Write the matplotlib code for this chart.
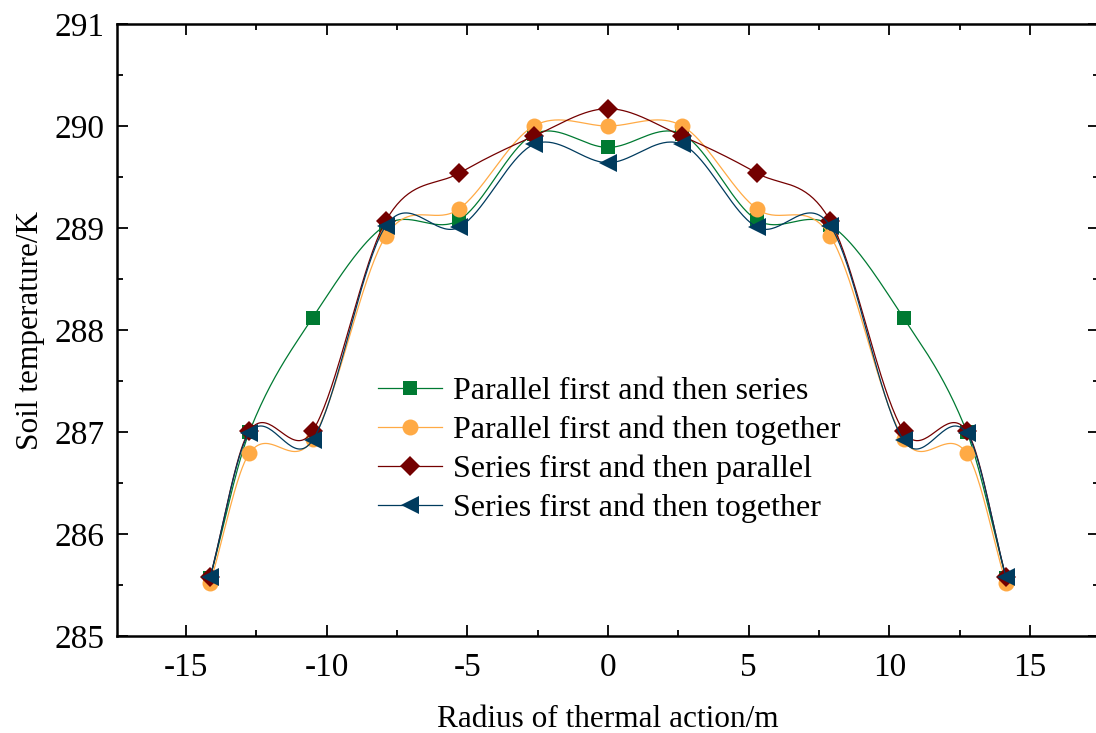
import numpy as np
import matplotlib
matplotlib.use("Agg")
import matplotlib.pyplot as plt
from matplotlib.ticker import MultipleLocator

plt.rcParams['font.family'] = ['Liberation Serif', 'DejaVu Serif']
plt.rcParams['axes.unicode_minus'] = False

# data
radius = [-14.14, -12.75, -10.5, -7.9, -5.28, -2.64, 0.0, 2.64, 5.28, 7.9, 10.5, 12.75, 14.14]
par_series = [285.57, 287.00, 288.12, 289.03, 289.08, 289.92, 289.79, 289.92, 289.08, 289.03, 288.12, 287.00, 285.57]
par_together = [285.52, 286.79, 286.93, 288.92, 289.19, 290.00, 290.00, 290.00, 289.19, 288.92, 286.93, 286.79, 285.52]
ser_parallel = [285.58, 287.01, 287.01, 289.07, 289.54, 289.90, 290.17, 289.90, 289.54, 289.07, 287.01, 287.01, 285.58]
ser_together = [285.58, 286.99, 286.92, 289.02, 289.01, 289.82, 289.64, 289.82, 289.01, 289.02, 286.92, 286.99, 285.58]

labels = ["Parallel first and then series", "Parallel first and then together",
          "Series first and then parallel", "Series first and then together"]
colors = ["#007A32", "#FFAA45", "#740000", "#003B5E"]
markers = ["s", "o", "D", "<"]
msizes = [10, 11.5, 10, 13]


def smooth(x, y, per_seg=40):
    # cubic Hermite through the points, Catmull-Rom style tangents
    x = np.asarray(x, float)
    y = np.asarray(y, float)
    m = np.empty_like(y)
    m[1:-1] = (y[2:] - y[:-2]) / (x[2:] - x[:-2])
    m[0] = (y[1] - y[0]) / (x[1] - x[0])
    m[-1] = (y[-1] - y[-2]) / (x[-1] - x[-2])
    xs, ys = [], []
    for i in range(len(x) - 1):
        h = x[i + 1] - x[i]
        t = np.linspace(0, 1, per_seg)
        h00 = 2 * t**3 - 3 * t**2 + 1
        h10 = t**3 - 2 * t**2 + t
        h01 = -2 * t**3 + 3 * t**2
        h11 = t**3 - t**2
        xs.append(x[i] + t * h)
        ys.append(h00 * y[i] + h10 * h * m[i] + h01 * y[i + 1] + h11 * h * m[i + 1])
    return np.concatenate(xs), np.concatenate(ys)


fig = plt.figure(figsize=(10.96, 7.33), dpi=100)
ax = fig.add_axes([0.1068, 0.1323, 0.896, 0.8349])

for yv, lab, c, mk, ms in zip([par_series, par_together, ser_parallel, ser_together],
                              labels, colors, markers, msizes):
    xs, ys = smooth(radius, yv)
    ax.plot(xs, ys, color=c, lw=0.9)
    ax.plot(radius, yv, ls="none", marker=mk, ms=ms, color=c, mec=c, mew=0)
    ax.plot([], [], color=c, lw=0.9, marker=mk, ms=ms, mew=0, label=lab)

ax.set_xlim(-17.45, 17.45)
ax.set_ylim(285, 291)
ax.xaxis.set_major_locator(MultipleLocator(5))
ax.xaxis.set_minor_locator(MultipleLocator(2.5))
ax.yaxis.set_major_locator(MultipleLocator(1))
ax.yaxis.set_minor_locator(MultipleLocator(0.5))

ax.tick_params(which="both", direction="in", top=True, right=True, width=1.3,
               labelsize=24)
ax.tick_params(which="major", length=8)
ax.tick_params(which="minor", length=4)
ax.tick_params(axis="x", which="major", pad=12)
ax.tick_params(axis="y", which="major", pad=9)
for s in ax.spines.values():
    s.set_linewidth(1.8)

ax.set_xlabel("Radius of thermal action/m", fontsize=22.5, labelpad=16)
ax.set_ylabel("Soil temperature/K", fontsize=22.5, labelpad=7)

ax.legend(loc="center", bbox_to_anchor=(0.556, 0.386), bbox_transform=fig.transFigure,
          frameon=False, fontsize=23, numpoints=1, handlelength=2.0,
          handletextpad=0.35, labelspacing=0.3, borderpad=0)

fig.savefig("out.png", dpi=100)
